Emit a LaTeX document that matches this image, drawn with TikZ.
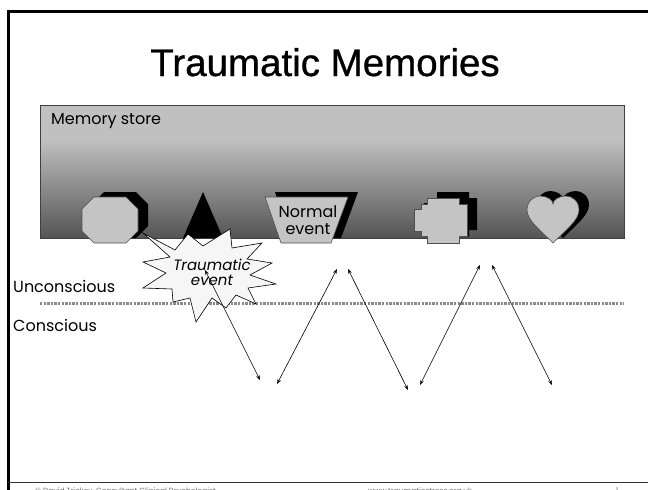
\documentclass[tikz,border=0pt]{standalone}
\usepackage{fontspec}
\setmainfont{Poppins}
\newfontfamily\titlefont{Liberation Sans}[FakeBold=0.8]
\usetikzlibrary{arrows.meta}

\definecolor{storelight}{HTML}{C0C0C0}
\definecolor{storedark}{HTML}{545454}
\definecolor{shapefill}{HTML}{C4C4C4}
\definecolor{shapeline}{HTML}{505050}
\definecolor{burstfill}{HTML}{F6F6F6}
\definecolor{dotline}{HTML}{8A8A8A}
\definecolor{footgray}{HTML}{707070}

\pgfdeclareverticalshading{storeshade}{100bp}{%
  color(0bp)=(storedark); color(25bp)=(storedark);
  color(62bp)=(storelight); color(100bp)=(storelight)}

\tikzset{
  memshape/.style={fill=shapefill, draw=shapeline, line width=0.6pt, line join=miter},
  memshadow/.style={fill=black, draw=none},
  bodytext/.style={font=\fontsize{16}{18}\selectfont, inner sep=0pt},
  recall/.style={{Stealth[length=5pt,width=3.6pt]}-{Stealth[length=5pt,width=3.6pt]}, line width=0.6pt},
  foottext/.style={font=\fontsize{7.5}{9}\selectfont, text=footgray, inner sep=0pt},
}

\begin{document}
\begin{tikzpicture}[x=1pt,y=-1pt]
\useasboundingbox (0,0) rectangle (648,490);
\clip (0,0) rectangle (648,490);

% slide frame
\draw[line width=3pt] (7,11) -- (660,11);
\draw[line width=3pt] (8.5,9.5) -- (8.5,500);
\draw[line width=1.4pt, draw=black!80] (8,482.5) -- (660,482.5);

% title
\node[font=\titlefont\fontsize{38.5}{42}\selectfont, anchor=base] (title) at (325,76) {Traumatic Memories};

% memory store
\path[shading=storeshade, draw=black!75, line width=0.7pt]
  (40,105) rectangle (624,238);
\node[bodytext, anchor=base west] (store) at (51,124) {Memory store};

% octagon
\begin{scope}[shift={(10,-5)}]
  \fill[memshadow] (94,197) -- (126,197) -- (138,209) -- (138,231) -- (126,243) -- (94,243) -- (82,231) -- (82,209) -- cycle;
\end{scope}
\draw[memshape] (94,197) -- (126,197) -- (138,209) -- (138,231) -- (126,243) -- (94,243) -- (82,231) -- (82,209) -- cycle;

% triangle
\fill[memshadow] (183,238) -- (203,192) -- (223,238) -- cycle;

% trapezoid (normal event)
\fill[memshadow] (275,192) -- (358,192) -- (341,238) -- (291,238) -- cycle;
\draw[memshape] (265,197) -- (348,197) -- (331,243) -- (281,243) -- cycle;
\node[bodytext, align=center, anchor=center] (normal) at (308,220)
  {Normal\\[-1pt]event};

% stepped cross
\begin{scope}[shift={(10,-6)}]
  \fill[memshadow] (427,198) -- (459,198) -- (459,204) -- (467,204) -- (467,236) -- (459,236) -- (459,243) -- (427,243) -- (427,236) -- (421,236) -- (421,231) -- (414,231) -- (414,209) -- (421,209) -- (421,204) -- (427,204) -- cycle;
\end{scope}
\draw[memshape] (427,198) -- (459,198) -- (459,204) -- (467,204) -- (467,236) -- (459,236) -- (459,243) -- (427,243) -- (427,236) -- (421,236) -- (421,231) -- (414,231) -- (414,209) -- (421,209) -- (421,204) -- (427,204) -- cycle;

% heart
\begin{scope}[shift={(10,-5)}]
  \fill[memshadow] (553,243) .. controls (540,230) and (527,220) .. (527,210)
    .. controls (527,201) and (534,196) .. (540,196)
    .. controls (547,196) and (553,200) .. (553,204)
    .. controls (553,200) and (559,196) .. (566,196)
    .. controls (572,196) and (579,201) .. (579,210)
    .. controls (579,220) and (566,230) .. (553,243) -- cycle;
\end{scope}
\draw[memshape] (553,243) .. controls (540,230) and (527,220) .. (527,210)
    .. controls (527,201) and (534,196) .. (540,196)
    .. controls (547,196) and (553,200) .. (553,204)
    .. controls (553,200) and (559,196) .. (566,196)
    .. controls (572,196) and (579,201) .. (579,210)
    .. controls (579,220) and (566,230) .. (553,243) -- cycle;

% conscious / unconscious boundary
\draw[dotline, line width=3pt, dash pattern=on 2.4pt off 1.2pt] (40,303) -- (624,303);
\node[bodytext, anchor=base west] (uncon) at (13,292) {Unconscious};
\node[bodytext, anchor=base west] (con) at (13,331) {Conscious};

% traumatic event burst
\filldraw[fill=burstfill, draw=black, line width=0.6pt, line join=miter]
  (143,233) -- (175,250) -- (188,234) -- (203,246) -- (230,229) -- (232,248)
  -- (262,243) -- (247,259) -- (272,263) -- (250,275) -- (276,284) -- (248,288)
  -- (256,304) -- (236,295) -- (226,308) -- (212,298) -- (196,322) -- (190,298)
  -- (173,302) -- (172,289) -- (143,288) -- (166,273) -- (143,262) -- (170,257) -- cycle;
\node[font=\fontsize{15}{17}\selectfont\itshape, align=center, inner sep=0pt] (trauma) at (212,272)
  {Traumatic\\[-2pt]event};

% recall arrows
\coordinate (t1) at (205,270);
\coordinate (b1) at (260,380);
\coordinate (b2) at (277,384);
\coordinate (t2) at (337,269);
\coordinate (t3) at (348,269);
\coordinate (b3) at (408,390);
\coordinate (b4) at (420,385);
\coordinate (t4) at (480,265);
\coordinate (t5) at (492,265);
\coordinate (b5) at (552,385);
\draw[recall] (t1) -- (b1);
\draw[recall] (b2) -- (t2);
\draw[recall] (t3) -- (b3);
\draw[recall] (b4) -- (t4);
\draw[recall] (t5) -- (b5);

% footer
\node[foottext, anchor=base west] (foot1) at (35,493) {© David Trickey, Consultant Clinical Psychologist};
\node[foottext, anchor=base west] (foot2) at (368,493) {www.traumaticstress.org.uk};
\node[foottext, anchor=base] (foot3) at (617,493) {1};
\end{tikzpicture}
\end{document}
